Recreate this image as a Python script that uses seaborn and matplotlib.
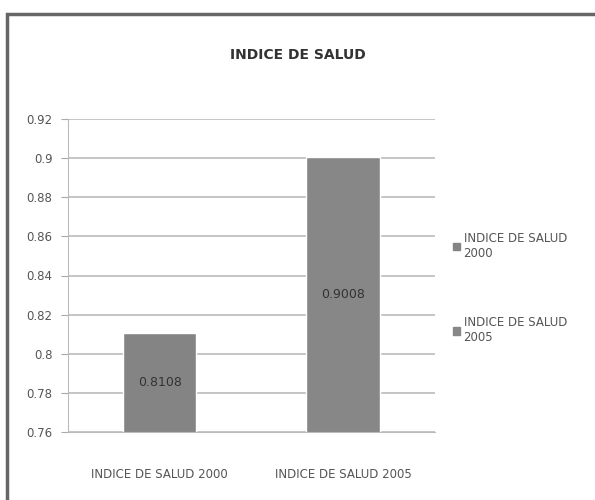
import matplotlib
matplotlib.use("Agg")
import matplotlib.pyplot as plt
import seaborn as sns
import pandas as pd
from matplotlib.patches import Rectangle

categories = ['INDICE DE SALUD 2000', 'INDICE DE SALUD 2005']
values = [0.8108, 0.9008]
legend_labels = ['INDICE DE SALUD\n2000', 'INDICE DE SALUD\n2005']
y_ticks = [0.76, 0.78, 0.8, 0.82, 0.84, 0.86, 0.88, 0.9, 0.92]
y_tick_labels = ['0.76', '0.78', '0.8', '0.82', '0.84', '0.86', '0.88', '0.9', '0.92']

sns.set_style("white")
plt.rcParams['font.family'] = ['DejaVu Sans']

df = pd.DataFrame({'categoria': categories, 'valor': values})
colors = ['#848484', '#878787']

fig = plt.figure(figsize=(5.95, 5.0), dpi=100)
ax = fig.add_axes([0.114, 0.136, 0.617, 0.626])

sns.barplot(data=df, x='categoria', y='valor', hue='categoria', palette=colors,
            dodge=False, width=0.4, legend=False, ax=ax, saturation=1)

ax.set_ylim(0.76, 0.92)
ax.set_xlim(-0.5, 1.5)
ax.set_yticks(y_ticks)
ax.set_yticklabels(y_tick_labels, fontsize=8.5, color='#555555')
ax.tick_params(axis='x', labelsize=8.5, colors='#555555', length=0, pad=26)
ax.tick_params(axis='y', length=5, color='#aaaaaa', left=True, pad=6)
ax.yaxis.grid(True, color='#bbbbbb', linewidth=1.2)
ax.set_axisbelow(True)
ax.set_xlabel('')
ax.set_ylabel('')
for s in ['top', 'right']:
    ax.spines[s].set_visible(False)
ax.spines['left'].set_color('#bbbbbb')
ax.spines['bottom'].set_color('#bbbbbb')

for cont in ax.containers:
    ax.bar_label(cont, fmt='%.4f', label_type='center', fontsize=9, color='#333333')

handles = [Rectangle((0, 0), 1, 1, color=c) for c in colors]
ax.legend(handles, legend_labels, loc='center left', bbox_to_anchor=(1.02, 0.46),
          frameon=False, fontsize=8.5, handlelength=0.6, handleheight=0.6,
          handletextpad=0.3, labelspacing=4.8, labelcolor='#555555')

fig.text(0.5, 0.89, 'INDICE DE SALUD', ha='center', va='center', fontsize=10,
         fontweight='bold', color='#333333')

# chart frame
fig.patches.append(Rectangle((7 / 595, -0.05), 1.1, 1 - 14 / 500 + 0.05, transform=fig.transFigure,
                             fill=False, edgecolor='#666666', linewidth=2.5))

fig.savefig('out.png', dpi=100)
